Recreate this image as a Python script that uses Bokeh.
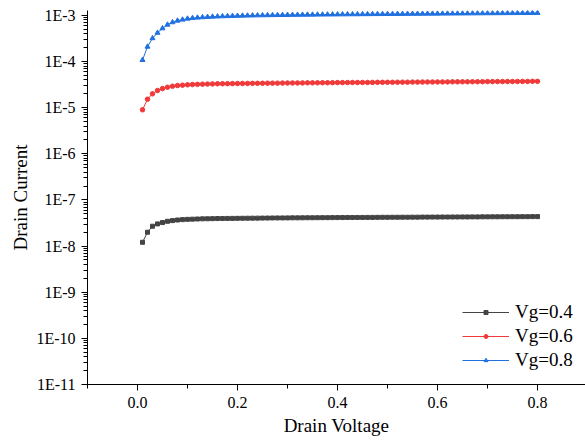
from bokeh.plotting import figure
from bokeh.models import (Range1d, LogTicker, SingleIntervalTicker, CustomJSTickFormatter,
                          Legend, LegendItem, NumeralTickFormatter)
from bokeh.embed import file_html
from bokeh.resources import INLINE

# ---------------- data ----------------
drain_voltage = [
    0.01, 0.02, 0.03, 0.04, 0.05, 0.06, 0.07, 0.08, 0.09, 0.10,
    0.11, 0.12, 0.13, 0.14, 0.15, 0.16, 0.17, 0.18, 0.19, 0.20,
    0.21, 0.22, 0.23, 0.24, 0.25, 0.26, 0.27, 0.28, 0.29, 0.30,
    0.31, 0.32, 0.33, 0.34, 0.35, 0.36, 0.37, 0.38, 0.39, 0.40,
    0.41, 0.42, 0.43, 0.44, 0.45, 0.46, 0.47, 0.48, 0.49, 0.50,
    0.51, 0.52, 0.53, 0.54, 0.55, 0.56, 0.57, 0.58, 0.59, 0.60,
    0.61, 0.62, 0.63, 0.64, 0.65, 0.66, 0.67, 0.68, 0.69, 0.70,
    0.71, 0.72, 0.73, 0.74, 0.75, 0.76, 0.77, 0.78, 0.79, 0.80,
]

# Vg = 0.4  (units of 1e-8)
current_vg04_e8 = [
    1.21, 2.00, 2.70, 3.03, 3.24, 3.45, 3.57, 3.68, 3.75, 3.80,
    3.84, 3.87, 3.90, 3.92, 3.94, 3.96, 3.97, 3.98, 3.99, 4.00,
    4.01, 4.02, 4.03, 4.04, 4.05, 4.06, 4.07, 4.08, 4.08, 4.09,
    4.10, 4.10, 4.11, 4.12, 4.12, 4.13, 4.14, 4.14, 4.15, 4.15,
    4.16, 4.17, 4.17, 4.18, 4.18, 4.19, 4.19, 4.20, 4.21, 4.21,
    4.22, 4.22, 4.23, 4.23, 4.24, 4.24, 4.25, 4.25, 4.26, 4.26,
    4.27, 4.27, 4.28, 4.28, 4.29, 4.29, 4.30, 4.30, 4.31, 4.31,
    4.32, 4.32, 4.33, 4.33, 4.34, 4.34, 4.35, 4.35, 4.36, 4.36,
]
# Vg = 0.6  (units of 1e-5)
current_vg06_e5 = [
    0.90, 1.53, 2.00, 2.36, 2.60, 2.78, 2.93, 3.02, 3.08, 3.14,
    3.18, 3.21, 3.24, 3.26, 3.28, 3.30, 3.31, 3.32, 3.33, 3.34,
    3.35, 3.36, 3.37, 3.38, 3.39, 3.40, 3.41, 3.41, 3.42, 3.43,
    3.44, 3.44, 3.45, 3.46, 3.46, 3.47, 3.48, 3.48, 3.49, 3.50,
    3.50, 3.51, 3.52, 3.52, 3.53, 3.53, 3.54, 3.55, 3.55, 3.56,
    3.56, 3.57, 3.58, 3.58, 3.59, 3.59, 3.60, 3.61, 3.61, 3.62,
    3.62, 3.63, 3.64, 3.64, 3.65, 3.65, 3.66, 3.66, 3.67, 3.68,
    3.68, 3.69, 3.69, 3.70, 3.70, 3.71, 3.72, 3.72, 3.73, 3.73,
]
# Vg = 0.8  (units of 1e-4)
current_vg08_e4 = [
    1.08, 2.10, 3.20, 4.20, 5.25, 6.30, 7.10, 7.70, 8.10, 8.50,
    8.75, 8.95, 9.12, 9.26, 9.38, 9.48, 9.57, 9.65, 9.72, 9.80,
    9.86, 9.92, 9.97, 10.02, 10.06, 10.10, 10.14, 10.18, 10.21, 10.24,
    10.27, 10.30, 10.33, 10.36, 10.38, 10.41, 10.43, 10.46, 10.48, 10.50,
    10.53, 10.55, 10.57, 10.59, 10.62, 10.64, 10.66, 10.68, 10.70, 10.72,
    10.74, 10.76, 10.78, 10.80, 10.82, 10.84, 10.86, 10.88, 10.90, 10.92,
    10.94, 10.96, 10.98, 11.00, 11.02, 11.04, 11.06, 11.08, 11.10, 11.12,
    11.14, 11.16, 11.18, 11.20, 11.22, 11.24, 11.26, 11.28, 11.30, 11.32,
]

current_vg04 = [v * 1e-8 for v in current_vg04_e8]
current_vg06 = [v * 1e-5 for v in current_vg06_e5]
current_vg08 = [v * 1e-4 for v in current_vg08_e4]

series_labels = ["Vg=0.4", "Vg=0.6", "Vg=0.8"]
series_colors = ["#444444", "#F03A3A", "#2070E0"]

y_tick_labels = ["1E-11", "1E-10", "1E-9", "1E-8", "1E-7", "1E-6", "1E-5", "1E-4", "1E-3"]

FONT = "Liberation Serif"

# ---------------- figure ----------------
p = figure(width=585, height=444, y_axis_type="log",
           x_range=Range1d(-0.1, 0.896), y_range=Range1d(1e-11, 1.28e-3),
           output_backend="svg", toolbar_location=None,
           min_border_left=87, min_border_right=0, min_border_top=10, min_border_bottom=60)
p.outline_line_color = None
p.xgrid.visible = False
p.ygrid.visible = False
p.background_fill_color = "white"
p.border_fill_color = "white"

xaxis = p.xaxis[0]
yaxis = p.yaxis[0]

yaxis.ticker = LogTicker(desired_num_ticks=9, num_minor_ticks=10, mantissas=[1])
yaxis.formatter = CustomJSTickFormatter(args=dict(labels=y_tick_labels),
    code="const i = Math.round(Math.log10(tick)) + 11; return labels[i];")
xaxis.ticker = SingleIntervalTicker(interval=0.2, num_minor_ticks=2)
xaxis.formatter = NumeralTickFormatter(format="0.0")

for ax in (xaxis, yaxis):
    ax.axis_line_color = "black"
    ax.axis_line_width = 1
    ax.major_tick_line_color = "black"
    ax.major_tick_line_width = 1
    ax.minor_tick_line_color = "black"
    ax.minor_tick_line_width = 1
    ax.major_tick_out = 6
    ax.major_tick_in = 0
    ax.minor_tick_out = 4
    ax.minor_tick_in = 0
    ax.major_label_text_font = FONT
    ax.major_label_text_font_size = "16px"
    ax.major_label_text_color = "black"
    ax.axis_label_text_font = FONT
    ax.axis_label_text_font_size = "19px"
    ax.axis_label_text_font_style = "normal"
    ax.axis_label_text_color = "black"

xaxis.axis_label = "Drain Voltage"
yaxis.axis_label = "Drain Current"
xaxis.major_label_standoff = 6
yaxis.major_label_standoff = 6
xaxis.axis_label_standoff = 4
yaxis.axis_label_standoff = 2

items = []
all_y = [current_vg04, current_vg06, current_vg08]
markers = ["square", "circle", "triangle"]
sizes = [4, 4.5, 5]
for ys, lab, col, mk, sz in zip(all_y, series_labels, series_colors, markers, sizes):
    ln = p.line(drain_voltage, ys, line_color=col, line_width=1)
    sc = p.scatter(drain_voltage, ys, marker=mk, size=sz, fill_color=col, line_color=col)
    items.append(LegendItem(label=lab, renderers=[ln, sc]))

legend = Legend(items=items, location=(375, 12), border_line_color=None,
                background_fill_alpha=0, padding=0, margin=0, spacing=0,
                glyph_width=47, glyph_height=10, label_height=24,
                label_standoff=6, label_text_font=FONT, label_text_font_size="19px",
                label_text_color="black")
p.add_layout(legend, "center")

open("out.html", "w").write(file_html(p, INLINE))
